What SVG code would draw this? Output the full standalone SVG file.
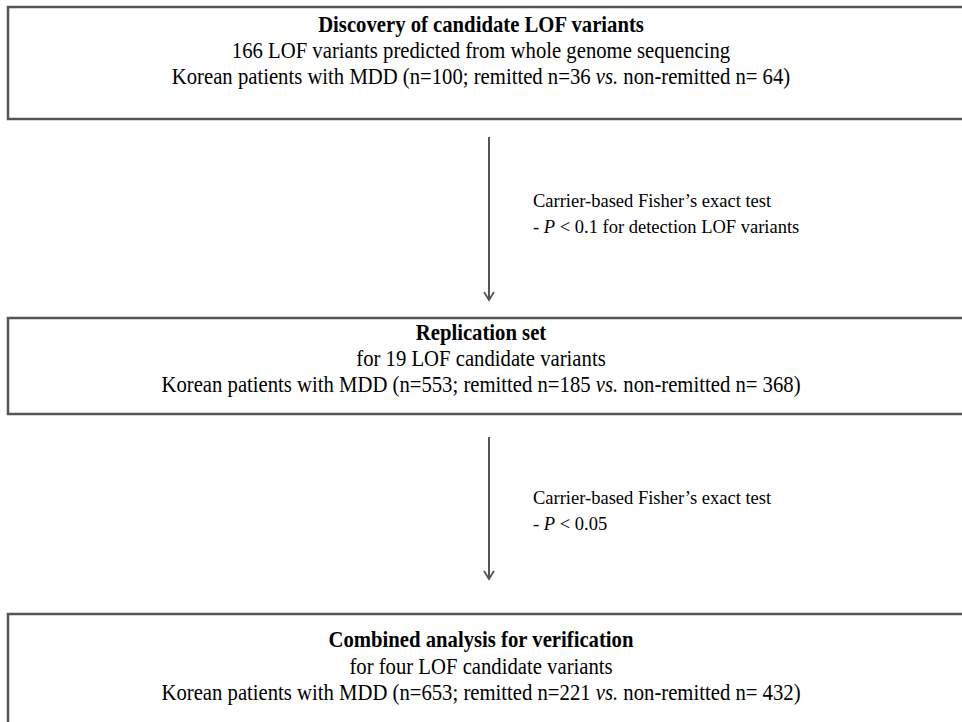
<svg xmlns="http://www.w3.org/2000/svg" width="962" height="722" viewBox="0 0 962 722">
<style>
.box{fill:#fff;stroke:#555;stroke-width:2.5}
.t{font-family:"Liberation Serif","Times New Roman",serif;font-size:23px;fill:#000;text-anchor:middle}
.b{font-weight:bold}
.l{font-family:"Liberation Serif","Times New Roman",serif;font-size:18.5px;fill:#000}
.c{stroke:#555;stroke-width:2;fill:none}
</style>
<defs>
<marker id="arr" markerWidth="12" markerHeight="12" refX="10" refY="6" orient="auto" markerUnits="userSpaceOnUse" viewBox="0 0 12 12">
<path d="M2,1 L10,6 L2,11" fill="none" stroke="#555" stroke-width="1.8"/>
</marker>
</defs>
<g id="n1">
<rect class="box" x="8" y="7" width="970" height="112"/>
<text class="t b" transform="translate(481 32) scale(0.9 1)">Discovery of candidate LOF variants</text>
<text class="t" transform="translate(481 58) scale(0.9 1)">166 LOF variants predicted from whole genome sequencing</text>
<text class="t" transform="translate(481 84) scale(0.9 1)">Korean patients with MDD (n=100; remitted n=36 <tspan font-style="italic">vs.</tspan> non-remitted n= 64)</text>
</g>
<g id="n2">
<rect class="box" x="8" y="318" width="970" height="96"/>
<text class="t b" transform="translate(481 340) scale(0.9 1)">Replication set</text>
<text class="t" transform="translate(481 366) scale(0.9 1)">for 19 LOF candidate variants</text>
<text class="t" transform="translate(481 392) scale(0.9 1)">Korean patients with MDD (n=553; remitted n=185 <tspan font-style="italic">vs.</tspan> non-remitted n= 368)</text>
</g>
<g id="n3">
<rect class="box" x="8" y="614" width="970" height="130"/>
<text class="t b" transform="translate(481 647) scale(0.9 1)">Combined analysis for verification</text>
<text class="t" transform="translate(481 674) scale(0.9 1)">for four LOF candidate variants</text>
<text class="t" transform="translate(481 700) scale(0.9 1)">Korean patients with MDD (n=653; remitted n=221 <tspan font-style="italic">vs.</tspan> non-remitted n= 432)</text>
</g>
<g id="connectors">
<line class="c" x1="489" y1="137" x2="489" y2="300" marker-end="url(#arr)"/>
<line class="c" x1="489" y1="437" x2="489" y2="579" marker-end="url(#arr)"/>
<text class="l" x="533" y="207">Carrier-based Fisher’s exact test</text>
<text class="l" x="533" y="233">- <tspan font-style="italic">P</tspan> &lt; 0.1 for detection LOF variants</text>
<text class="l" x="533" y="504">Carrier-based Fisher’s exact test</text>
<text class="l" x="533" y="530">- <tspan font-style="italic">P</tspan> &lt; 0.05</text>
</g>
</svg>
